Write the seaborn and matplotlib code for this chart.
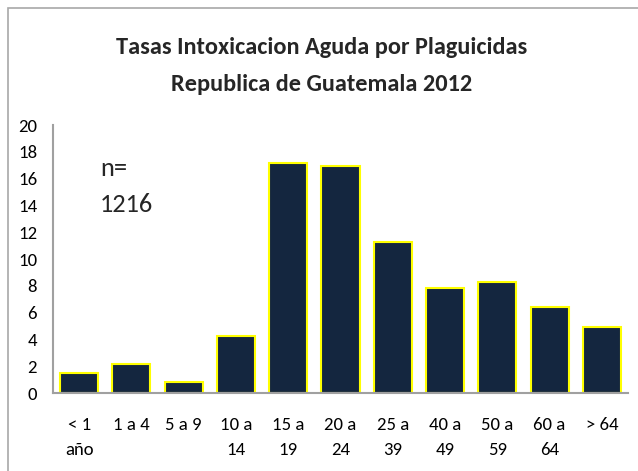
import matplotlib
matplotlib.use("Agg")
import matplotlib.pyplot as plt
import seaborn as sns
import pandas as pd
from matplotlib.patches import Rectangle

categories = ["< 1\naño", "1 a 4", "5 a 9", "10 a\n14", "15 a\n19", "20 a\n24",
              "25 a\n39", "40 a\n49", "50 a\n59", "60 a\n64", "> 64"]
values = [1.5, 2.2, 0.85, 4.25, 17.2, 16.95, 11.3, 7.8, 8.25, 6.45, 4.9]
yticks = [0, 2, 4, 6, 8, 10, 12, 14, 16, 18, 20]
title = "Tasas Intoxicacion Aguda por Plaguicidas\nRepublica de Guatemala 2012"
note = "n=\n1216"

sns.set_theme(style="white")
plt.rcParams['font.family'] = ['Carlito', 'DejaVu Sans']

df = pd.DataFrame({"cat": categories, "val": values})

fig = plt.figure(figsize=(6.38, 4.71), dpi=100)
W, H = 638, 471
ax = fig.add_axes([53 / W, 1 - 393 / H, (628 - 53) / W, (393 - 125) / H])

sns.barplot(data=df, x="cat", y="val", ax=ax, color="#14263F", saturation=1,
            width=0.73, edgecolor="#FFFF00", linewidth=1.5)

ax.set_ylim(0, 20)
ax.set_xlim(-0.5, len(categories) - 0.5)
ax.set_yticks(yticks)
ax.set_yticklabels([str(v) for v in yticks])
ax.set_xlabel("")
ax.set_ylabel("")
ax.tick_params(axis="y", length=0, pad=11.5, labelsize=13.5, colors="black")
ax.tick_params(axis="x", length=0, pad=17, labelsize=13.5, colors="black")
for lbl in ax.get_xticklabels():
    lbl.set_linespacing(1.7)
    lbl.set_verticalalignment("top")

for s in ["top", "right"]:
    ax.spines[s].set_visible(False)
for s in ["left", "bottom"]:
    ax.spines[s].set_color("#A0A0A0")
    ax.spines[s].set_linewidth(1.5)

ax.text(0.4, 17.6, note, fontsize=19, va="top", ha="left", linespacing=1.65)

fig.text(322 / W, 1 - 66 / H, title, ha="center", va="center", fontsize=17.5,
         fontweight="bold", linespacing=1.9)

fig.patches.append(Rectangle((8 / W, -0.1), 1.2, 1 - 8 / H + 0.1,
                             transform=fig.transFigure, fill=False,
                             edgecolor="#A8A8A8", linewidth=1.2))

fig.savefig("out.png", dpi=100)
